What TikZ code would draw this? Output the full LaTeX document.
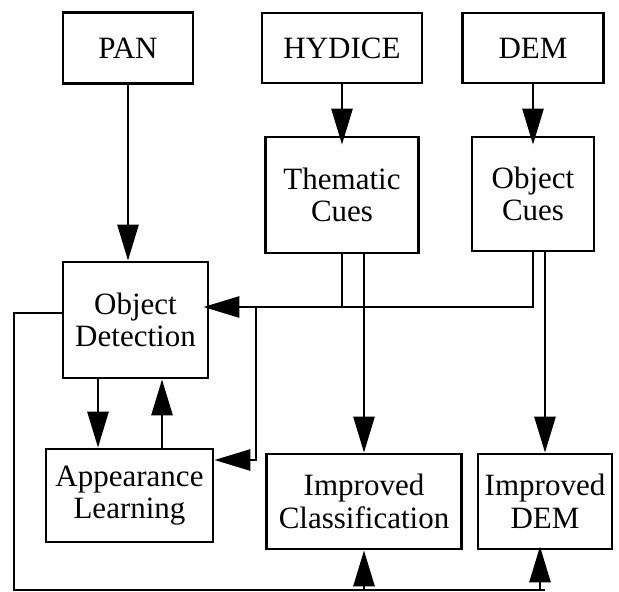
\documentclass[tikz,border=0pt]{standalone}
\usepackage{fontspec}
\setmainfont{Liberation Serif}
\usetikzlibrary{arrows.meta, positioning, calc}

\begin{document}
\begin{tikzpicture}[
    x=1pt, y=-1pt,
    arr/.style={-{Triangle[length=36pt, width=21pt]}, line width=2.8pt},
    link/.style={line width=2.8pt},
    block/.style={rectangle, draw, line width=2.8pt, inner sep=0pt, align=center,
                  font=\fontsize{31}{32.5}\selectfont},
]
\useasboundingbox (0,0) rectangle (619,592);

% Sources
\node[block, minimum width=130pt, minimum height=71pt] (pan) at (128,48) {PAN};
\node[block, minimum width=160pt, minimum height=70pt] (hyd) at (342,48) {HYDICE};
\node[block, minimum width=141pt, minimum height=70pt] (dem) at (533,48) {DEM};

% Cues
\node[block, minimum width=153pt, minimum height=116pt] (thm) at (342,195) {Thematic\\Cues};
\node[block, minimum width=122pt, minimum height=114pt] (ocue) at (533,194) {Object\\Cues};

% Detection and learning
\node[block, minimum width=145pt, minimum height=116pt] (det) at (135.5,320) {Object\\Detection};
\node[block, minimum width=167pt, minimum height=93pt] (app) at (129.5,495.5) {Appearance\\Learning};

% Products
\node[block, minimum width=195pt, minimum height=95pt] (cls) at (364,501.5) {Improved\\Classification};
\node[block, minimum width=134pt, minimum height=95pt] (idem) at (545,501.5) {Improved\\DEM};

% Top-down flow
\draw[arr] (pan.south) -- (pan.south |- det.north);
\draw[arr, shorten >=-9pt] (hyd.south) -- (hyd.south |- thm.north);
\draw[arr, shorten >=-9pt] (dem.south) -- (dem.south |- ocue.north);

% Cues fed back into detection
\coordinate (fb) at ([yshift=13pt]det.east);
\coordinate (tap) at (256,307);
\draw[arr, shorten >=-6pt] (ocue.south) |- (fb);
\draw[link] (thm.south) -- (thm.south |- fb);
\draw[arr] (tap) |- ([yshift=35.5pt]app.east);

% Cues down to the products
\draw[arr] (thm.south -| cls.north) -- (cls.north);
\draw[arr] (ocue.south -| idem.north) -- (idem.north);

% Detection <-> learning
\draw[arr] ([xshift=-31.5pt]app.north |- det.south) -- ([xshift=-31.5pt]app.north);
\draw[arr] ([xshift=32.5pt]app.north) -- ([xshift=32.5pt]app.north |- det.south);

% Detections along the bottom
\coordinate (low) at (14,590);
\draw[link] ([yshift=7pt]det.west) -| (low) -- (low -| idem.south);
\draw[arr] (low -| cls.south) -- (cls.south);
\draw[arr, shorten >=-4pt] ([xshift=-5pt]idem.south |- low) -- ([xshift=-5pt]idem.south);

\end{tikzpicture}
\end{document}
